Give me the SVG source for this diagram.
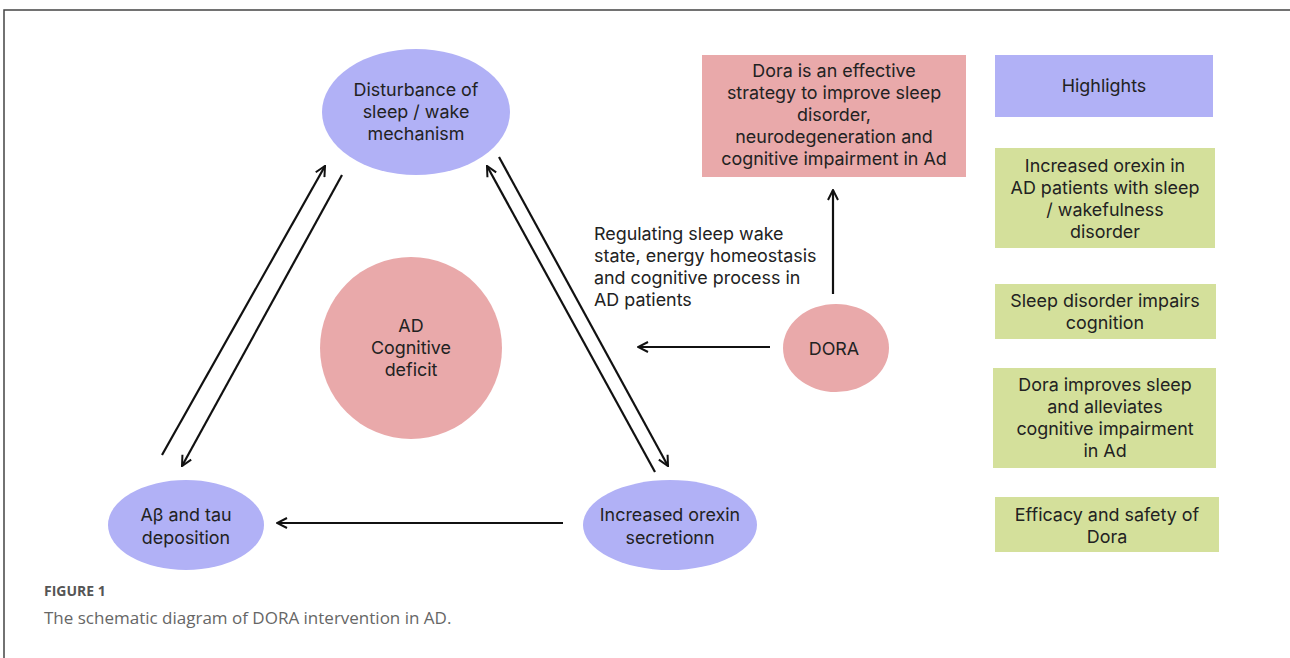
<svg xmlns="http://www.w3.org/2000/svg" width="1290" height="658" viewBox="0 0 1290 658">
<defs>
<marker id="ah" viewBox="0 0 12 12" refX="11" refY="6" markerWidth="12" markerHeight="12" markerUnits="userSpaceOnUse" orient="auto">
<path d="M1,1 L11,6 L1,11" fill="none" stroke="#111" stroke-width="2"/>
</marker>
<style>
.t{font-family:Inter,"Noto Sans","DejaVu Sans",sans-serif;font-size:17.9px;fill:#222;text-anchor:middle}
.tl{font-family:Inter,"Noto Sans","DejaVu Sans",sans-serif;font-size:17.9px;fill:#222}
.blue{fill:#b1b1f6}
.pink{fill:#e9a9aa}
.green{fill:#d4e09b}
.c{stroke:#111;stroke-width:2.2;fill:none;marker-end:url(#ah)}
</style>
</defs>
<rect width="1290" height="658" fill="#fff"/>
<path d="M4,658 V10 H1290" fill="none" stroke="#444" stroke-width="1.5"/>

<g id="sleep"><ellipse class="blue" cx="416" cy="112" rx="94" ry="63"/>
<text class="t" x="416" y="96">Disturbance of</text><text class="t" x="416" y="118">sleep / wake</text><text class="t" x="416" y="140">mechanism</text></g>

<g id="ad"><circle class="pink" cx="411" cy="348" r="91"/>
<text class="t" x="411" y="332">AD</text><text class="t" x="411" y="354">Cognitive</text><text class="t" x="411" y="376">deficit</text></g>

<g id="abeta"><ellipse class="blue" cx="186" cy="525" rx="78" ry="45"/>
<text class="t" x="186" y="521">Aβ and tau</text><text class="t" x="186" y="544">deposition</text></g>

<g id="orexin"><ellipse class="blue" cx="670" cy="525" rx="87" ry="45"/>
<text class="t" x="670" y="521">Increased orexin</text><text class="t" x="670" y="544">secretionn</text></g>

<g id="dora"><ellipse class="pink" cx="836" cy="348" rx="53" ry="44"/>
<text class="t" x="834" y="355">DORA</text></g>

<g id="effective"><rect class="pink" x="702" y="55" width="264" height="122"/>
<text class="t" x="834" y="77">Dora is an effective</text><text class="t" x="834" y="99">strategy to improve sleep</text><text class="t" x="834" y="121">disorder,</text><text class="t" x="834" y="143">neurodegeneration and</text><text class="t" x="834" y="165">cognitive impairment in Ad</text></g>

<g id="highlights"><rect class="blue" x="995" y="55" width="218" height="62"/>
<text class="t" x="1104" y="92">Highlights</text></g>

<g id="h1"><rect class="green" x="995" y="148" width="220" height="100"/>
<text class="t" x="1105" y="172">Increased orexin in</text><text class="t" x="1105" y="194">AD patients with sleep</text><text class="t" x="1105" y="216">/ wakefulness</text><text class="t" x="1105" y="238">disorder</text></g>

<g id="h2"><rect class="green" x="995" y="284" width="221" height="55"/>
<text class="t" x="1105" y="307">Sleep disorder impairs</text><text class="t" x="1105" y="329">cognition</text></g>

<g id="h3"><rect class="green" x="993" y="368" width="223" height="100"/>
<text class="t" x="1105" y="391">Dora improves sleep</text><text class="t" x="1105" y="413">and alleviates</text><text class="t" x="1105" y="435">cognitive impairment</text><text class="t" x="1105" y="457">in Ad</text></g>

<g id="h4"><rect class="green" x="995" y="497" width="224" height="55"/>
<text class="t" x="1107" y="521">Efficacy and safety of</text><text class="t" x="1107" y="543">Dora</text></g>

<g id="label"><text class="tl" x="594" y="240">Regulating sleep wake</text><text class="tl" x="594" y="262">state, energy homeostasis</text><text class="tl" x="594" y="284">and cognitive process in</text><text class="tl" x="594" y="306">AD patients</text></g>

<g id="connectors">
<line class="c" x1="162" y1="455" x2="325" y2="166"/>
<line class="c" x1="342" y1="175" x2="182" y2="466"/>
<line class="c" x1="655" y1="472" x2="487" y2="166"/>
<line class="c" x1="499" y1="157" x2="668" y2="466"/>
<line class="c" x1="563" y1="523" x2="277" y2="523"/>
<line class="c" x1="770" y1="347" x2="638" y2="347"/>
<line class="c" x1="833" y1="294" x2="833" y2="190"/>
</g>

<g id="caption">
<text x="44" y="596" font-family="'Open Sans','Noto Sans',sans-serif" font-size="14" font-weight="bold" fill="#555">FIGURE 1</text>
<text x="44" y="624" font-family="'Open Sans','Noto Sans',sans-serif" font-size="17" fill="#666">The schematic diagram of DORA intervention in AD.</text>
</g>
</svg>
